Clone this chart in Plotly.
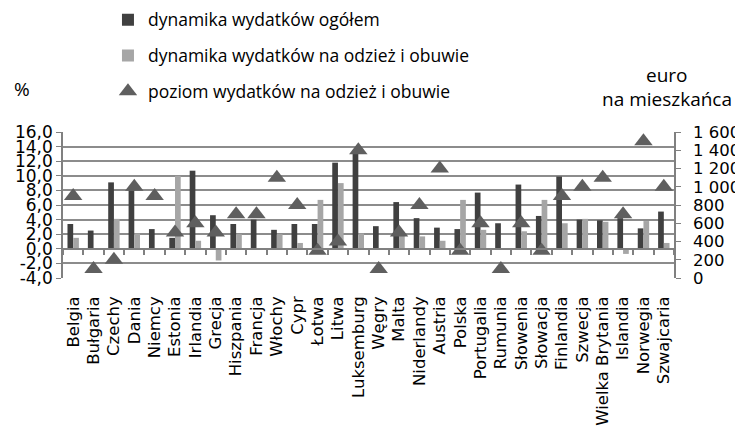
import plotly.graph_objects as go

countries = ["Belgia", "Bułgaria", "Czechy", "Dania", "Niemcy", "Estonia", "Irlandia", "Grecja",
             "Hiszpania", "Francja", "Włochy", "Cypr", "Łotwa", "Litwa", "Luksemburg", "Węgry",
             "Malta", "Niderlandy", "Austria", "Polska", "Portugalia", "Rumunia", "Słowenia",
             "Słowacja", "Finlandia", "Szwecja", "Wielka Brytania", "Islandia", "Norwegia", "Szwajcaria"]

dyn_total = [3.4, 2.5, 9.1, 8.0, 2.7, 1.5, 10.7, 4.6, 3.4, 4.0, 2.6, 3.4, 3.4, 11.8, 13.5, 3.1,
             6.4, 4.2, 2.9, 2.7, 7.7, 3.5, 8.8, 4.5, 9.9, 4.0, 3.9, 4.2, 2.8, 5.1]

dyn_clothing = [1.5, None, 4.1, 2.1, None, 10.0, 1.1, -1.6, 2.0, None, 2.0, 0.8, 6.7, 9.0, 2.1, None,
                1.8, 1.7, 1.1, 6.7, 2.6, None, 2.4, 6.7, 3.5, 4.1, 3.7, -0.7, 3.8, 0.8]

level_clothing = [900, 100, 200, 1000, 900, 500, 600, 500, 700, 700, 1100, 800, 300, 400, 1400, 100,
                  500, 800, 1200, 300, 600, 100, 600, 300, 900, 1000, 1100, 700, 1500, 1000]

left_ticks = [-4, -2, 0, 2, 4, 6, 8, 10, 12, 14, 16]
left_labels = [f"{v:.1f}".replace(".", ",") for v in left_ticks]
right_ticks = [0, 200, 400, 600, 800, 1000, 1200, 1400, 1600]
right_labels = [f"{v:,}".replace(",", " ") for v in right_ticks]

DARK = "#404040"
LIGHT = "#a6a6a6"
TRI = "#5f5f5f"
GRID = "#8c8c8c"
AXIS = "#808080"

fig = go.Figure()
fig.add_trace(go.Bar(x=countries, y=dyn_total, name="dynamika wydatków ogółem",
                     marker=dict(color=DARK, line=dict(width=0)), legendgroup="a"))
fig.add_trace(go.Bar(x=countries, y=dyn_clothing, name="dynamika wydatków na odzież i obuwie",
                     marker=dict(color=LIGHT, line=dict(width=0)), legendgroup="b"))
fig.add_trace(go.Scatter(x=countries, y=level_clothing, name="poziom wydatków na odzież i obuwie",
                         mode="markers", yaxis="y2", legendgroup="c",
                         marker=dict(symbol="triangle-up", size=16, color=TRI)))
# helper trace for the category axis drawn at the zero line
fig.add_trace(go.Scatter(x=countries, y=[None] * len(countries), xaxis="x2", showlegend=False,
                         hoverinfo="skip", mode="markers"))

tick_font = dict(family="DejaVu Sans", size=17, color="#000000")
n = len(countries)
xr = [-0.5, n - 0.5]

fig.update_layout(
    width=735, height=421,
    margin=dict(l=55, r=69, t=124, b=151, pad=0, autoexpand=False),
    paper_bgcolor="white", plot_bgcolor="white",
    barmode="group", bargap=0.44, bargroupgap=0,
    font=dict(family="Open Sans", size=15, color="#000000"),
    showlegend=True,
    legend=dict(x=0.0736, y=1.892, xanchor="left", yanchor="top",
                traceorder="grouped", tracegroupgap=10,
                font=dict(family="Open Sans", size=17.5, color="#000000"),
                bgcolor="rgba(0,0,0,0)"),
    xaxis=dict(type="category", range=xr, showgrid=False, showline=False, ticks="",
               tickmode="array", tickvals=countries, ticktext=countries,
               tickangle=-90, tickfont=dict(family="DejaVu Sans", size=16.5, color="#000000"),
               ticklabelstandoff=14, zeroline=False),
    xaxis2=dict(type="category", range=xr, overlaying="x", anchor="free", position=0.2,
                showline=True, linecolor=AXIS, linewidth=1.5, ticks="outside",
                tickson="boundaries", ticklen=5, tickcolor=AXIS, tickwidth=1.5,
                showticklabels=False, showgrid=False, zeroline=False),
    yaxis=dict(range=[-4, 16], tickvals=left_ticks, ticktext=left_labels,
               showgrid=True, gridcolor=GRID, gridwidth=1.5, zeroline=False,
               showline=True, linecolor=AXIS, linewidth=1.5,
               ticks="outside", ticklen=5, tickcolor=AXIS, tickfont=tick_font),
    yaxis2=dict(range=[0, 1600], tickvals=right_ticks, ticktext=right_labels,
                overlaying="y", side="right", showgrid=False, zeroline=False,
                showline=True, linecolor=AXIS, linewidth=1.5,
                ticks="outside", ticklen=5, tickcolor=AXIS,
                tickfont=dict(family="DejaVu Sans", size=16.5, color="#000000"),
                ticklabelstandoff=9),
    annotations=[
        dict(text="%", x=-0.067, y=1.295, xref="paper", yref="paper", showarrow=False,
             xanchor="center", yanchor="middle",
             font=dict(family="Open Sans", size=19, color="#000000")),
        dict(text="euro", x=0.9885, y=1.39, xref="paper", yref="paper", showarrow=False,
             xanchor="center", yanchor="middle",
             font=dict(family="Open Sans", size=19, color="#000000")),
        dict(text="na mieszkańca", x=0.9885, y=1.226, xref="paper", yref="paper", showarrow=False,
             xanchor="center", yanchor="middle",
             font=dict(family="Open Sans", size=19, color="#000000")),
    ],
)

fig.write_html("out.html")
